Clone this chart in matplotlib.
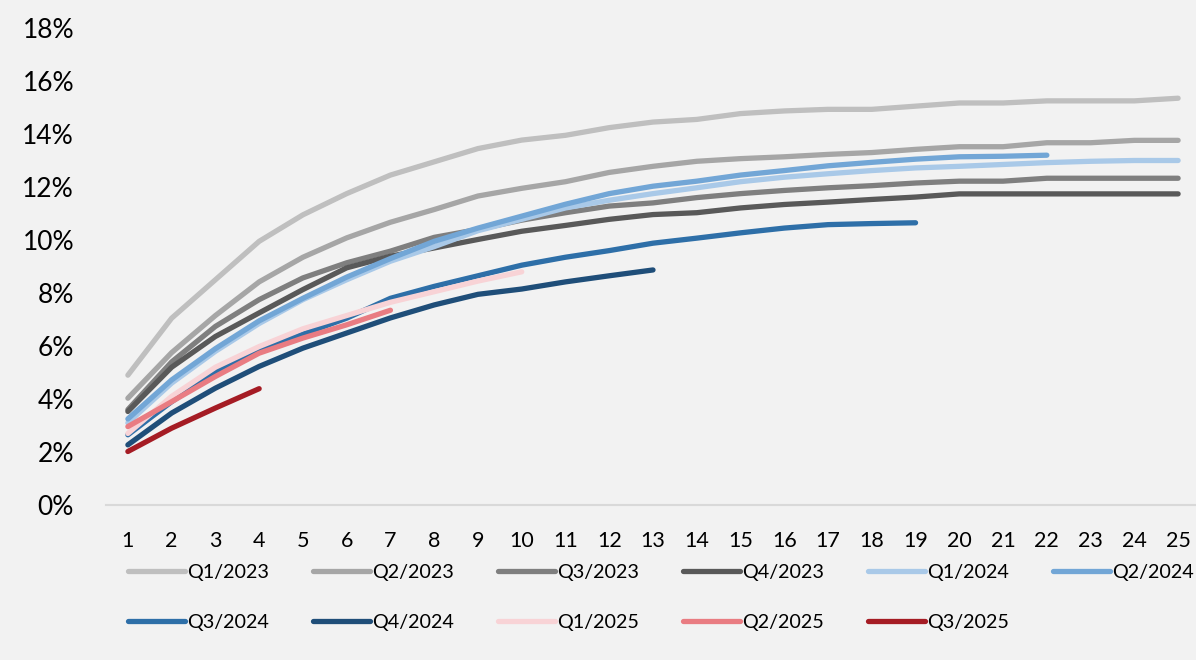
"""
Cumulative curves by quarter (Q1/2023 - Q3/2025)
"""

import matplotlib
matplotlib.use("Agg")
import matplotlib.pyplot as plt
from matplotlib.ticker import FuncFormatter

# x axis: months since start
months = list(range(1, 26))

# series labels
labels = ['Q1/2023', 'Q2/2023', 'Q3/2023', 'Q4/2023',
          'Q1/2024', 'Q2/2024', 'Q3/2024', 'Q4/2024',
          'Q1/2025', 'Q2/2025', 'Q3/2025']

# values in %
q1_2023 = [4.9, 7.05, 8.5, 9.95, 10.95, 11.75, 12.45, 12.95, 13.45, 13.77,
           13.95, 14.24, 14.45, 14.55, 14.77, 14.87, 14.93, 14.93, 15.05, 15.17,
           15.17, 15.25, 15.25, 15.25, 15.35]
q2_2023 = [4.03, 5.75, 7.15, 8.42, 9.35, 10.08, 10.67, 11.15, 11.66, 11.95,
           12.2, 12.55, 12.78, 12.97, 13.07, 13.14, 13.23, 13.3, 13.42, 13.52,
           13.52, 13.67, 13.67, 13.76, 13.76]
q3_2023 = [3.6, 5.4, 6.74, 7.75, 8.57, 9.14, 9.58, 10.1, 10.4, 10.75,
           11.03, 11.28, 11.4, 11.6, 11.75, 11.87, 11.97, 12.05, 12.15, 12.22,
           12.22, 12.33, 12.33, 12.33, 12.33]
q4_2023 = [3.53, 5.2, 6.36, 7.25, 8.13, 8.95, 9.39, 9.7, 10.02, 10.33,
           10.55, 10.78, 10.96, 11.03, 11.21, 11.34, 11.43, 11.53, 11.62, 11.74,
           11.74, 11.74, 11.74, 11.74, 11.74]
q1_2024 = [3.1, 4.6, 5.8, 6.85, 7.75, 8.5, 9.2, 9.75, 10.35, 10.78,
           11.21, 11.5, 11.75, 11.97, 12.2, 12.37, 12.5, 12.62, 12.72, 12.78,
           12.85, 12.92, 12.97, 13.0, 13.0]
q2_2024 = [3.25, 4.72, 5.9, 6.95, 7.8, 8.6, 9.3, 9.95, 10.45, 10.9,
           11.35, 11.75, 12.03, 12.22, 12.45, 12.62, 12.8, 12.93, 13.05, 13.14,
           13.16, 13.2]
q3_2024 = [2.65, 3.9, 5.0, 5.85, 6.45, 7.05, 7.8, 8.25, 8.65, 9.05,
           9.35, 9.6, 9.88, 10.07, 10.27, 10.45, 10.58, 10.62, 10.65]
q4_2024 = [2.27, 3.47, 4.41, 5.23, 5.92, 6.49, 7.06, 7.55, 7.95, 8.15,
           8.42, 8.65, 8.87]
q1_2025 = [2.7, 4.1, 5.2, 5.98, 6.65, 7.15, 7.65, 8.05, 8.45, 8.8]
q2_2025 = [2.96, 3.9, 4.85, 5.73, 6.3, 6.8, 7.35]
q3_2025 = [2.02, 2.9, 3.66, 4.39]

series = [q1_2023, q2_2023, q3_2023, q4_2023,
          q1_2024, q2_2024, q3_2024, q4_2024,
          q1_2025, q2_2025, q3_2025]

colors = ['#bfbfbf', '#a6a6a6', '#7f7f7f', '#595959',
          '#a9c9e8', '#72a6d6', '#2e6fa8', '#1f4e79',
          '#f8d3d6', '#e97c82', '#a51c24']

y_ticks = list(range(0, 19, 2))

BG = '#f2f2f2'


def plot_chart():
    """ë¼ì¸ ì°¨íŠ¸ ê·¸ë¦¬ê¸°"""
    plt.rcParams['font.family'] = ['Lato', 'DejaVu Sans']

    fig = plt.figure(figsize=(11.96, 6.6), dpi=100, facecolor=BG)
    ax = fig.add_axes([106 / 1196, 0.2348, 1094 / 1196, 0.7228])
    ax.set_facecolor(BG)

    handles = []
    for label, vals, color in zip(labels, series, colors):
        line, = ax.plot(months[:len(vals)], vals, color=color, lw=3.8,
                        solid_capstyle='round', solid_joinstyle='round',
                        label=label)
        handles.append(line)

    # axes
    ax.set_xlim(0.5, 25.5)
    ax.set_ylim(0, 18)
    ax.set_xticks(months)
    ax.set_yticks(y_ticks)
    ax.yaxis.set_major_formatter(FuncFormatter(lambda v, p: f"{v:.0f}%"))
    ax.tick_params(axis='x', length=0, pad=19, labelsize=15.5, colors='black')
    ax.tick_params(axis='y', length=0, pad=23, labelsize=19, colors='black')
    for side in ['top', 'right', 'left']:
        ax.spines[side].set_visible(False)
    ax.spines['bottom'].set_color('#d9d9d9')
    ax.spines['bottom'].set_linewidth(1.5)

    # legend: 6 columns, row-wise order
    order = [0, 6, 1, 7, 2, 8, 3, 9, 4, 10, 5]
    leg = fig.legend([handles[i] for i in order], [labels[i] for i in order],
                     ncol=6, loc='upper left',
                     bbox_to_anchor=(128 / 1196, 1 - 564 / 660),
                     frameon=False, fontsize=14.2, handlelength=2.9,
                     handletextpad=0.1, columnspacing=2.23, labelspacing=1.65,
                     borderpad=0, borderaxespad=0)
    for h in leg.get_lines():
        h.set_solid_capstyle('round')

    fig.savefig('out.png', dpi=100, facecolor=BG)


def main():
    plot_chart()


if __name__ == "__main__":
    main()
